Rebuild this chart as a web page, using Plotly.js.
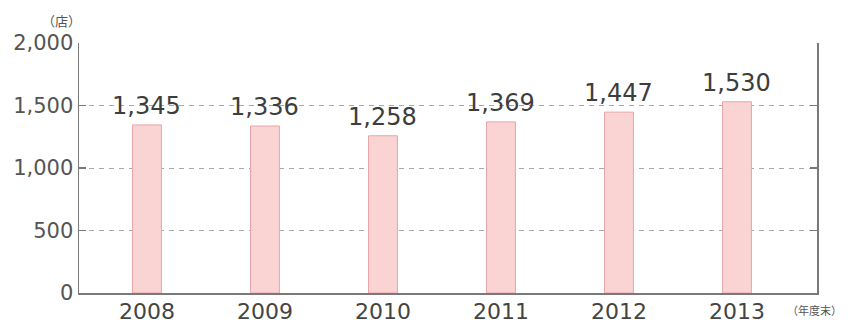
<!DOCTYPE html>
<html>
<head>
<meta charset="utf-8">
<script src="https://cdn.plot.ly/plotly-3.0.1.min.js"></script>
<style>html,body{margin:0;padding:0;background:#fff;}#chart{width:852px;height:327px;}</style>
</head>
<body>
<div id="chart"></div>
<script>
const years = ['2008', '2009', '2010', '2011', '2012', '2013'];
const stores = [1345, 1336, 1258, 1369, 1447, 1530];
const yTicks = [0, 500, 1000, 1500, 2000];
const yTickLabels = ['0', '500', '1,000', '1,500', '2,000'];

const font = '"DejaVu Sans", "Noto Sans", sans-serif';

const trace = {
  type: 'bar',
  x: years.map((_, i) => i),
  y: stores,
  width: 0.245,
  marker: { color: '#fad3d3', line: { color: '#e9a6a8', width: 1 } },
  hoverinfo: 'none'
};

const annotations = stores.map((v, i) => ({
  x: i, y: v, xref: 'x', yref: 'y',
  text: v.toLocaleString('en-US'),
  showarrow: false, yanchor: 'bottom', yshift: 3,
  font: { family: font, size: 24, color: '#3d3d3d' }
}));
annotations.push({
  xref: 'paper', yref: 'paper', x: -0.024, y: 1.0, xanchor: 'center', yanchor: 'bottom', yshift: 11,
  text: '（店）', showarrow: false,
  font: { family: '"Noto Sans CJK JP", sans-serif', size: 13, color: '#555' }
});
annotations.push({
  xref: 'paper', yref: 'paper', x: 1.0, y: 0, xanchor: 'left', yanchor: 'top', xshift: -32, yshift: -7,
  text: '（年度末）', showarrow: false,
  font: { family: '"Noto Sans CJK JP", sans-serif', size: 11, color: '#555' }
});

const layout = {
  width: 852, height: 327,
  margin: { l: 79, r: 35, t: 43, b: 34 },
  paper_bgcolor: '#fff', plot_bgcolor: '#fff',
  showlegend: false,
  xaxis: {
    range: [-0.576, 5.678],
    tickvals: years.map((_, i) => i), ticktext: years,
    showline: true, linecolor: '#7a7a7a', linewidth: 1.5,
    showgrid: false, zeroline: false, ticks: '',
    ticklabelstandoff: -2,
    tickfont: { family: font, size: 22, color: '#444' }
  },
  yaxis: {
    range: [0, 2000],
    tickvals: yTicks, ticktext: yTickLabels,
    showline: true, linecolor: '#7a7a7a', linewidth: 1.5, mirror: 'ticks',
    ticks: 'inside', ticklen: 7, tickcolor: '#7a7a7a', tickwidth: 1.5,
    showgrid: true, gridcolor: '#a8a8a8', griddash: '5px,5px', gridwidth: 1,
    zeroline: false,
    tickfont: { family: font, size: 21, color: '#555' }
  },
  annotations: annotations
};

Plotly.newPlot('chart', [trace], layout, { staticPlot: true, displayModeBar: false });
</script>
</body>
</html>
